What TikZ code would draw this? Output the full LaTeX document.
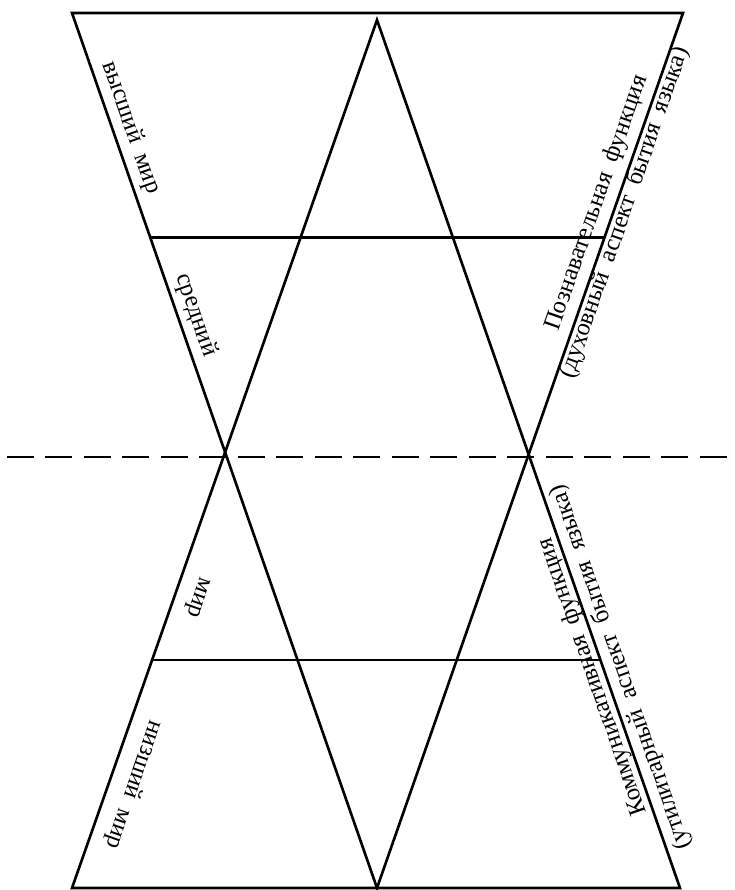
\documentclass[tikz,border=0pt]{standalone}
\usepackage{fontspec}
\setmainfont{Liberation Serif}
\usetikzlibrary{calc}

\begin{document}
\begin{tikzpicture}[
    edge/.style={line width=1.5pt, line join=miter},
    axisline/.style={line width=1.6pt, dash pattern=on 0.54cm off 0.23cm},
    lbl/.style={font=\fontsize{14}{17}\selectfont, inner sep=0pt, align=center}
]
    \useasboundingbox (0,0) rectangle (14.68,17.8);

    % --- Inverted triangle ---
    \coordinate (TL) at (1.44,17.54);
    \coordinate (TR) at (13.66,17.54);
    \coordinate (Bv) at (7.54,0.04);
    \draw[edge] (TL) -- (TR) -- (Bv) -- cycle;

    % --- Upright triangle ---
    \coordinate (Ta) at (7.54,17.40);
    \coordinate (BL) at (1.44,0.04);
    \coordinate (BR) at (13.60,0.04);
    \draw[edge] (Ta) -- (BL) -- (BR) -- cycle;

    % Horizontal cuts
    \coordinate (h1l) at ($(TL)!0.2568!(Bv)$);
    \coordinate (h1r) at ($(TR)!0.2568!(Bv)$);
    \coordinate (h2l) at ($(Ta)!0.7373!(BL)$);
    \coordinate (h2r) at ($(Ta)!0.7373!(BR)$);
    \draw[edge] (h1l) -- (h1r);
    \draw[edge] (h2l) -- (h2r);

    % Dashed axis
    \coordinate (dl) at (0.14,8.66);
    \coordinate (dr) at (14.58,8.66);
    \draw[axisline] (dl) -- (dr);

    % --- Labels, left side ---
    \node[lbl, rotate=-70.74] (high) at (2.62,15.24) {высший\ \ мир};
    \node[lbl, rotate=-70.74] (mid) at (3.92,11.50) {средний};
    \node[lbl, rotate=-109.36] (midw) at (3.94,5.86) {мир};
    \node[lbl, rotate=-109.36] (low) at (2.68,2.10) {низший\ \ мир};

    % --- Labels, right side ---
    \node[lbl, rotate=70.74] (cogn) at (12.22,13.64)
        {Познавательная\ \ функция\\(духовный\ \ аспект\ \ бытия\ \ языка)};
    \node[lbl, rotate=109.24] (comm) at (12.14,4.36)
        {Коммуникативная\ \ функция\\(утилитарный\ \ аспект\ \ бытия\ \ языка)};

\end{tikzpicture}
\end{document}
